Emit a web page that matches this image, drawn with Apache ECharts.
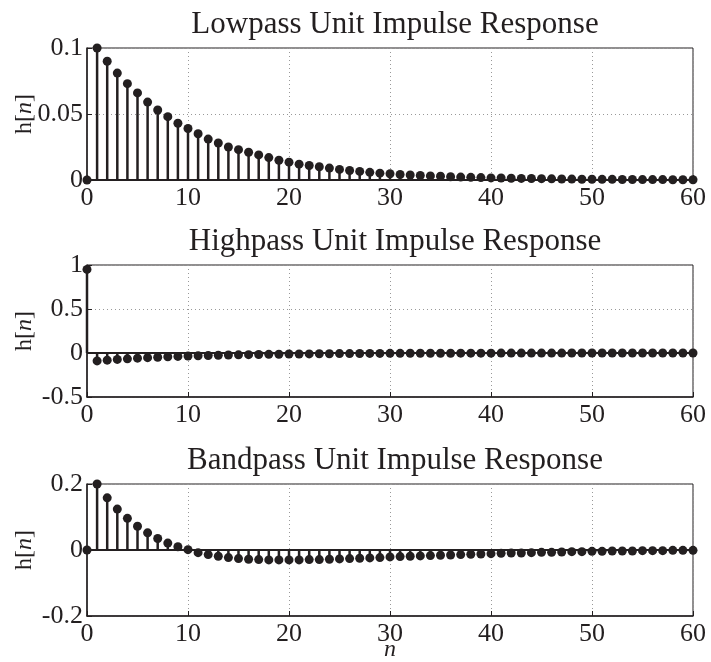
<!DOCTYPE html>
<html>
<head>
<meta charset="utf-8">
<script src="https://cdn.jsdelivr.net/npm/echarts@6/dist/echarts.min.js"></script>
<style>
  html, body { margin: 0; padding: 0; background: #fff; }
  #main { width: 711px; height: 662px; }
</style>
</head>
<body>
<div id="main"></div>
<script>
var chart = echarts.init(document.getElementById('main'));

var nVals = [0,1,2,3,4,5,6,7,8,9,10,11,12,13,14,15,16,17,18,19,20,21,22,23,24,25,26,27,28,29,30,
  31,32,33,34,35,36,37,38,39,40,41,42,43,44,45,46,47,48,49,50,51,52,53,54,55,56,57,58,59,60];

var lowpass = [0, 0.100, 0.090, 0.081, 0.073, 0.066, 0.059, 0.053, 0.048, 0.043, 0.039,
  0.035, 0.031, 0.028, 0.025, 0.023, 0.021, 0.019, 0.017, 0.015, 0.0135,
  0.012, 0.011, 0.010, 0.009, 0.008, 0.0072, 0.0065, 0.0058, 0.0052, 0.0047,
  0.0042, 0.0038, 0.0034, 0.0031, 0.0028, 0.0025, 0.0022, 0.0020, 0.0018, 0.0016,
  0.0015, 0.0013, 0.0012, 0.0011, 0.0010, 0.0009, 0.0008, 0.0007, 0.0006, 0.0006,
  0.0005, 0.0005, 0.0004, 0.0004, 0.0003, 0.0003, 0.0003, 0.0002, 0.0002, 0.0002];

var highpass = [0.95, -0.090, -0.081, -0.073, -0.066, -0.059, -0.053, -0.048, -0.043, -0.039, -0.035,
  -0.031, -0.028, -0.025, -0.023, -0.021, -0.019, -0.017, -0.015, -0.014, -0.012,
  -0.011, -0.010, -0.009, -0.008, -0.007, -0.0065, -0.006, -0.005, -0.0047, -0.0042,
  -0.0038, -0.0034, -0.0031, -0.0028, -0.0025, -0.0022, -0.0020, -0.0018, -0.0016, -0.0015,
  -0.0013, -0.0012, -0.0011, -0.0010, -0.0009, -0.0008, -0.0007, -0.0006, -0.0006, -0.0005,
  -0.0005, -0.0004, -0.0004, -0.0003, -0.0003, -0.0003, -0.0002, -0.0002, -0.0002, -0.0002];

var bandpass = [0, 0.200, 0.158, 0.124, 0.096, 0.072, 0.052, 0.035, 0.021, 0.010, 0.001,
  -0.008, -0.014, -0.019, -0.023, -0.026, -0.028, -0.029, -0.030, -0.030, -0.030,
  -0.030, -0.029, -0.029, -0.028, -0.027, -0.026, -0.025, -0.024, -0.023, -0.021,
  -0.020, -0.019, -0.018, -0.017, -0.016, -0.015, -0.014, -0.013, -0.012, -0.011,
  -0.010, -0.009, -0.009, -0.008, -0.007, -0.007, -0.006, -0.005, -0.005, -0.004,
  -0.004, -0.003, -0.003, -0.003, -0.002, -0.002, -0.002, -0.001, -0.001, -0.001];

var titles = ['Lowpass Unit Impulse Response', 'Highpass Unit Impulse Response', 'Bandpass Unit Impulse Response'];
var yRanges = [[0, 0.1, 0.05], [-0.5, 1, 0.5], [-0.2, 0.2, 0.2]];
var allSeries = [lowpass, highpass, bandpass];

var ink = '#231f20';
var font = 'Liberation Serif';
var gridTops = [48, 265, 484];
var titleTops = [4, 221, 440];

var option = {
  backgroundColor: '#fff',
  animation: false,
  title: [],
  grid: [],
  xAxis: [],
  yAxis: [],
  series: []
};

allSeries.forEach(function (vals, i) {
  var pts = nVals.map(function (n, k) { return [n, vals[k]]; });
  option.title.push({
    text: titles[i],
    left: 390, top: titleTops[i], textAlign: 'center',
    textStyle: { fontFamily: font, fontSize: 31, fontWeight: 'normal', color: ink }
  });
  option.grid.push({
    left: 87, right: 18, top: gridTops[i], height: 132,
    outerBoundsMode: 'none', containLabel: false,
    show: true, borderColor: ink, borderWidth: 1
  });
  option.xAxis.push({
    gridIndex: i, type: 'value', min: 0, max: 60, interval: 10,
    name: i === 2 ? 'n' : '',
    nameLocation: 'middle', nameGap: 22, nameMoveOverlap: false,
    nameTextStyle: { fontFamily: font, fontSize: 24, fontStyle: 'italic', color: ink },
    axisLine: { onZero: false, lineStyle: { color: ink, width: 1.5 } },
    axisTick: { inside: true, length: 5, lineStyle: { color: ink } },
    axisLabel: { fontFamily: font, fontSize: 26, color: ink, margin: 5 },
    splitLine: { show: true, lineStyle: { color: '#999', type: [1, 3], width: 1 } }
  });
  option.yAxis.push({
    gridIndex: i, type: 'value',
    min: yRanges[i][0], max: yRanges[i][1], interval: yRanges[i][2],
    name: '{a|h[}{b|n}{a|]}',
    nameLocation: 'middle', nameGap: 50, nameRotate: 90, nameMoveOverlap: false,
    nameTextStyle: {
      rich: {
        a: { fontFamily: font, fontSize: 24, color: ink },
        b: { fontFamily: font, fontSize: 24, fontStyle: 'italic', color: ink }
      }
    },
    axisLine: { onZero: false, lineStyle: { color: ink, width: 1.5 } },
    axisTick: { inside: true, length: 5, lineStyle: { color: ink } },
    axisLabel: {
      fontFamily: font, fontSize: 26, color: ink, margin: 4,
      formatter: function (v) { return String(Math.round(v * 1000) / 1000); }
    },
    splitLine: { show: true, lineStyle: { color: '#999', type: [1, 3], width: 1 } }
  });
  option.series.push({
    type: 'bar', xAxisIndex: i, yAxisIndex: i,
    data: pts, barWidth: 2.5,
    itemStyle: { color: ink },
    markLine: {
      silent: true, symbol: 'none', label: { show: false },
      lineStyle: { color: ink, width: 2, type: 'solid' },
      data: [{ yAxis: 0 }]
    }
  });
  option.series.push({
    type: 'scatter', xAxisIndex: i, yAxisIndex: i,
    data: pts, symbolSize: 9, z: 5,
    itemStyle: { color: ink, opacity: 1 }
  });
});

chart.setOption(option);
</script>
</body>
</html>
